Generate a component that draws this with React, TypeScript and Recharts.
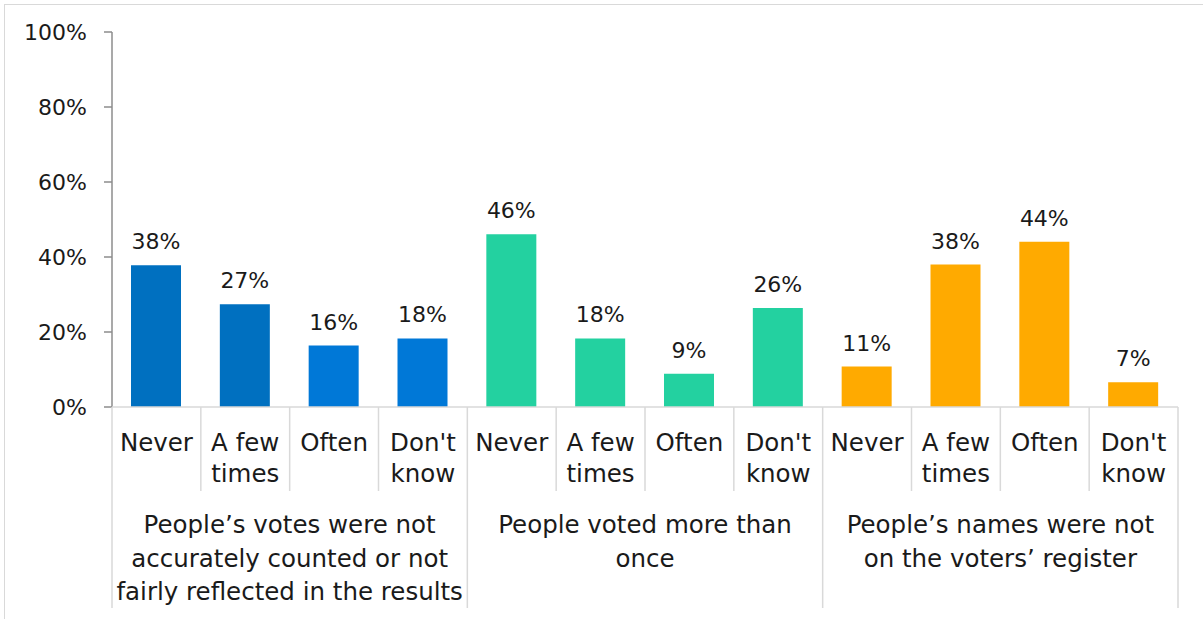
import React from 'react';
import { BarChart, Bar, XAxis, YAxis, Cell, LabelList } from 'recharts';

// answer options under each statement
const answers = ['Never', 'A few times', 'Often', "Don't know"];
const answerLines = [['Never'], ['A few', 'times'], ['Often'], ["Don't", 'know']];

// statements (already broken into lines as in the original)
const statements = [
  ['People\u2019s votes were not', 'accurately counted or not', 'fairly reflected in the results'],
  ['People voted more than', 'once'],
  ['People\u2019s names were not', 'on the voters\u2019 register'],
];

const votesNotCounted = [37.8, 27.4, 16.4, 18.3];
const votedMoreThanOnce = [46.1, 18.3, 8.9, 26.4];
const notOnRegister = [10.8, 38.0, 44.1, 6.6];

const yTicks = [0, 20, 40, 60, 80, 100];

const BAR_COLORS = [
  '#0070C0', '#0070C0', '#0078D7', '#0078D7',
  '#23D1A0', '#23D1A0', '#23D1A0', '#23D1A0',
  '#FFAA00', '#FFAA00', '#FFAA00', '#FFAA00',
];

const data = [votesNotCounted, votedMoreThanOnce, notOnRegister].flatMap((vals, g) =>
  vals.map((v, i) => ({ key: `${g}-${i}`, answer: answers[i], group: g, pos: i, value: v }))
);

const FONT = '"DejaVu Sans", sans-serif';
const TEXT = '#1a1a1a';
const GRID = '#d9d9d9';
const LABEL_SIZE = 24.5;

const W = 1203;
const H = 619;
const M = { top: 32, right: 25, bottom: 0, left: 0 };
const Y_W = 112;
const BAND = (W - M.right - M.left - Y_W) / data.length;

const CategoryTick = (props: any) => {
  const { x, y, payload } = props;
  const idx = payload.index;
  const row = data[idx];
  const lines = answerLines[row.pos];
  const left = x - BAND / 2;
  const right = x + BAND / 2;
  return (
    <g>
      <line x1={left} y1={y} x2={left} y2={row.pos === 0 ? y + 201 : y + 84} stroke={GRID} strokeWidth={1.5} />
      {idx === data.length - 1 && (
        <line x1={right} y1={y} x2={right} y2={y + 201} stroke={GRID} strokeWidth={1.5} />
      )}
      {lines.map((l, i) => (
        <text key={i} x={x} y={y + 44 + i * 31} textAnchor="middle" fill={TEXT} fontSize={LABEL_SIZE} fontFamily={FONT}>
          {l}
        </text>
      ))}
      {row.pos === 1 &&
        statements[row.group].map((l, i) => (
          <text key={'s' + i} x={right} y={y + 126 + i * 33.5} textAnchor="middle" fill={TEXT} fontSize={LABEL_SIZE} fontFamily={FONT}>
            {l}
          </text>
        ))}
    </g>
  );
};

export default function App() {
  return (
    <div style={{ position: 'absolute', left: 0, top: 0, width: W, height: H, overflow: 'hidden', background: '#fff' }}>
      <div
        style={{
          position: 'absolute', left: 4, top: 4, width: W + 20, height: H + 20,
          borderLeft: `1.5px solid ${GRID}`, borderTop: `1.5px solid ${GRID}`,
        }}
      />
      <BarChart width={W} height={H} data={data} margin={M} barSize={50}>
        <YAxis
          type="number"
          domain={[0, 100]}
          ticks={yTicks}
          width={Y_W}
          tickFormatter={(v: number) => `${v}%`}
          axisLine={{ stroke: '#8c8c8c', strokeWidth: 1.5 }}
          tickLine={{ stroke: '#8c8c8c', strokeWidth: 1.5 }}
          tickSize={8}
          tickMargin={17}
          tick={{ fill: TEXT, fontSize: 22, fontFamily: FONT }}
        />
        <XAxis
          dataKey="key"
          type="category"
          height={H - M.top - 375}
          interval={0}
          tickLine={false}
          tickSize={0}
          tickMargin={0}
          axisLine={{ stroke: GRID, strokeWidth: 1.5 }}
          tick={<CategoryTick />}
        />
        <Bar dataKey="value" isAnimationActive={false}>
          {data.map((d, i) => (
            <Cell key={d.key} fill={BAR_COLORS[i]} />
          ))}
          <LabelList
            dataKey="value"
            position="top"
            offset={16}
            formatter={(v: any) => `${Math.round(Number(v))}%`}
            fill={TEXT}
            fontSize={22}
            fontFamily={FONT}
          />
        </Bar>
      </BarChart>
    </div>
  );
}
